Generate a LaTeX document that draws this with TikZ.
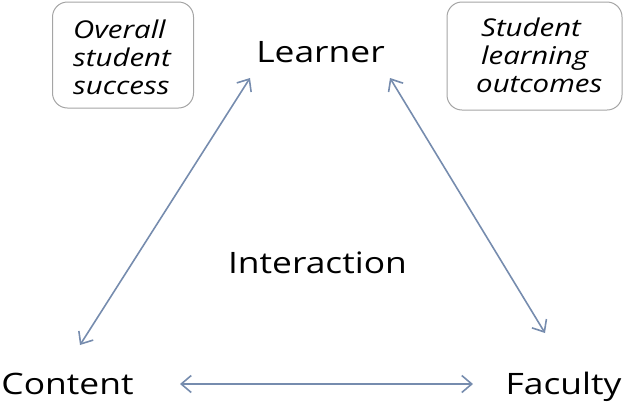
\documentclass[tikz,border=0pt]{standalone}
\usepackage{fontspec}
\setmainfont{Open Sans}[FakeStretch=1.2]
\usetikzlibrary{arrows.meta}
\definecolor{arr}{RGB}{118,140,174}
\definecolor{boxline}{RGB}{165,165,165}
\tikzset{
  lbl/.style={font=\fontsize{29.5}{36}\selectfont, inner sep=0pt, text=black, anchor=base},
  notebox/.style={draw=boxline, line width=1pt, rounded corners=15pt, inner sep=0pt},
  notetext/.style={align=left, font=\fontsize{24.5}{28}\selectfont\itshape, inner sep=0pt, anchor=west},
  link/.style={draw=arr, line width=1.6pt, {Straight Barb[length=10pt,width=17pt]}-{Straight Barb[length=10pt,width=17pt]}}
}
\begin{document}
\begin{tikzpicture}[x=1pt,y=-1pt]
\useasboundingbox (0,0) rectangle (626,402);
\node[lbl] (L) at (320.5,62) {Learner};
\node[lbl] (I) at (317.5,273) {Interaction};
\node[lbl] (C) at (67.5,394) {Content};
\node[lbl] (F) at (563.5,394) {Faculty};
\node[notebox, minimum width=141pt, minimum height=106pt] (b1) at (123,55) {};
\node[notetext] (t1) at (73,57) {Overall\\student\\success};
\node[notebox, minimum width=175pt, minimum height=108pt] (b2) at (534.5,56) {};
\node[notetext] (t2) at (476,55) {\hspace*{5pt}Student\\\hspace*{5pt}learning\\outcomes};
\coordinate (l1) at (250,78);
\coordinate (c1) at (80,345);
\coordinate (l2) at (390,78);
\coordinate (f1) at (545,333);
\coordinate (c2) at (180,384);
\coordinate (f2) at (473,384);
\draw[link] (l1) -- (c1);
\draw[link] (l2) -- (f1);
\draw[link] (c2) -- (f2);
\end{tikzpicture}
\end{document}
